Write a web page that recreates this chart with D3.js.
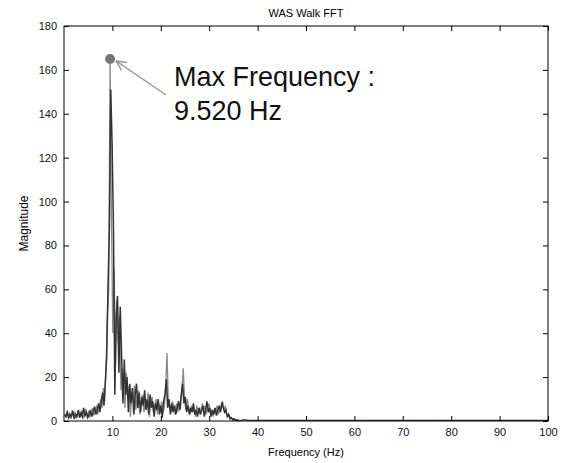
<!DOCTYPE html>
<html>
<head>
<meta charset="utf-8">
<script src="https://cdn.jsdelivr.net/npm/d3@7"></script>
<style>
  body { margin: 0; background: #fff; }
  text { font-family: "Liberation Sans", Arial, sans-serif; }
</style>
</head>
<body>
<div id="chart"></div>
<script>
// FFT bins: dark trace starts at 0.14 Hz, gray at 0.28 Hz, both 0.28 Hz apart
const darkStart = 0.14;
const grayStart = 0.28;
const binStep = 0.28;

const darkMag = [
  3, 2, 4, 1.5, 3, 2, 4.5, 1, 3, 2,
  5, 1.5, 3.5, 2, 6, 2.5, 4, 1.5, 3, 5,
  2, 4, 6.5, 3, 5, 8, 4, 9, 13, 7,
  18, 29, 62, 88, 151, 126, 88, 12, 48, 57,
  22, 52, 30, 8, 28, 12, 20, 4, 17, 8,
  15, 3, 12, 17, 6, 13, 4, 11, 7, 14,
  5, 10, 3, 12, 6, 9, 2, 8, 5, 10,
  3, 7, 1.5, 9, 12, 19, 6, 10, 3, 8,
  4, 7, 3, 6, 9, 5, 12, 17, 8, 11,
  4, 7, 3, 6, 4, 8, 3, 5, 2, 6,
  3, 5, 7, 2, 5, 9, 4, 6, 2, 5,
  3, 6, 2.5, 5, 7, 4, 8.5, 6, 4, 5,
  2, 3, 1, 1.5, 0.5, 1, 0.3, 0.6, 0.2, 0.4
];

const grayMag = [
  1.5, 4, 2, 3.5, 1, 5, 2.5, 4, 1.5, 3,
  4.5, 2, 5, 1, 3, 5.5, 2, 4, 1.5, 4,
  6, 2.5, 4.5, 7, 3, 6, 10, 6, 15, 9,
  24, 48, 60, 165, 95, 40, 70, 25, 55, 36,
  48, 14, 24, 18, 6, 22, 10, 16, 2, 13,
  9, 16, 5, 11, 14, 3, 9, 12, 4, 10,
  7, 13, 2, 8, 11, 4, 7, 10, 3, 8,
  5, 9, 4, 6, 15, 31, 9, 7, 4, 9,
  6, 3, 8, 4, 7, 6, 14, 24, 9, 5,
  10, 6, 3, 7, 4, 6, 2, 7, 4, 6,
  3, 8, 4, 7, 3, 6, 8, 4, 5, 2,
  5, 4, 7, 3, 5, 6, 9, 5, 7, 3,
  2, 2.5, 1, 1.2, 0.6, 0.8, 0.4, 0.5, 0.3, 0.2
];

// flat near-zero tail after the signal dies out
const tailFreq = [36.4, 37.2, 38.0, 100];
const tailMag = [0.2, 0.6, 0.3, 0.3];

const maxFreq = 9.52;
const maxMag = 165;

const xTicks = [10, 20, 30, 40, 50, 60, 70, 80, 90, 100];
const yTicks = [0, 20, 40, 60, 80, 100, 120, 140, 160, 180];

const width = 567;
const height = 463;
const margin = {top: 26, right: 19, bottom: 42, left: 64};

const svg = d3.select('#chart')
  .append('svg')
  .attr('width', width)
  .attr('height', height);

const x = d3.scaleLinear()
  .domain([0, 100])
  .range([margin.left, width - margin.right]);

const y = d3.scaleLinear()
  .domain([0, 180])
  .range([height - margin.bottom, margin.top]);

const dark = darkMag.map((m, i) => ({f: darkStart + i * binStep, m}));
const gray = grayMag.map((m, i) => ({f: grayStart + i * binStep, m}));
const tail = tailFreq.map((f, i) => ({f, m: tailMag[i]}));

const line = d3.line().x(d => x(d.f)).y(d => y(d.m));

svg.append('path').datum(gray)
  .attr('fill', 'none').attr('stroke', '#8a8a8a').attr('stroke-width', 1.3)
  .attr('d', line);

svg.append('path').datum(dark)
  .attr('fill', 'none').attr('stroke', '#333').attr('stroke-width', 1.5)
  .attr('d', line);

svg.append('path').datum(tail)
  .attr('fill', 'none').attr('stroke', '#333').attr('stroke-width', 1.3)
  .attr('d', line);

// axes, ticks inside on all four sides
const tickFont = 11;
svg.append('g')
  .attr('transform', `translate(0,${height - margin.bottom})`)
  .call(d3.axisBottom(x).tickValues(xTicks).tickSizeInner(-5).tickSizeOuter(0).tickPadding(7))
  .call(g => g.select('.domain').remove())
  .attr('font-size', tickFont);

svg.append('g')
  .attr('transform', `translate(${margin.left},0)`)
  .call(d3.axisLeft(y).tickValues(yTicks).tickSizeInner(-5).tickSizeOuter(0).tickPadding(7))
  .call(g => g.select('.domain').remove())
  .attr('font-size', tickFont);

svg.append('g')
  .attr('transform', `translate(0,${margin.top})`)
  .call(d3.axisTop(x).tickValues(xTicks).tickSizeInner(-5).tickSizeOuter(0).tickFormat(''))
  .call(g => g.select('.domain').remove());

svg.append('g')
  .attr('transform', `translate(${width - margin.right},0)`)
  .call(d3.axisRight(y).tickValues(yTicks).tickSizeInner(-5).tickSizeOuter(0).tickFormat(''))
  .call(g => g.select('.domain').remove());

svg.selectAll('.tick text').attr('fill', '#111');

svg.append('rect')
  .attr('x', margin.left).attr('y', margin.top)
  .attr('width', width - margin.left - margin.right)
  .attr('height', height - margin.top - margin.bottom)
  .attr('fill', 'none').attr('stroke', '#000').attr('stroke-width', 1);

// max marker and annotation
svg.append('circle')
  .attr('cx', x(maxFreq)).attr('cy', y(maxMag)).attr('r', 5)
  .attr('fill', '#777');

const ax0 = 166, ay0 = 95;
const ax1 = x(maxFreq) + 6, ay1 = y(maxMag) + 2;
svg.append('line')
  .attr('x1', ax0).attr('y1', ay0).attr('x2', ax1).attr('y2', ay1)
  .attr('stroke', '#999').attr('stroke-width', 1.5);
const ang = Math.atan2(ay1 - ay0, ax1 - ax0);
[0.45, -0.45].forEach(a => {
  svg.append('line')
    .attr('x1', ax1).attr('y1', ay1)
    .attr('x2', ax1 - 11 * Math.cos(ang + a))
    .attr('y2', ay1 - 11 * Math.sin(ang + a))
    .attr('stroke', '#999').attr('stroke-width', 1.5);
});

svg.append('text')
  .attr('x', 174).attr('y', 86)
  .attr('font-size', 27).attr('fill', '#111')
  .text('Max Frequency  :');
svg.append('text')
  .attr('x', 174).attr('y', 120)
  .attr('font-size', 27).attr('fill', '#111')
  .text(`${maxFreq.toFixed(3)} Hz`);

// titles
svg.append('text')
  .attr('x', (margin.left + width - margin.right) / 2).attr('y', 17)
  .attr('text-anchor', 'middle').attr('font-size', 11)
  .text('WAS Walk FFT');

svg.append('text')
  .attr('x', (margin.left + width - margin.right) / 2).attr('y', 456)
  .attr('text-anchor', 'middle').attr('font-size', 11)
  .text('Frequency (Hz)');

svg.append('text')
  .attr('transform', `translate(28,${(margin.top + height - margin.bottom) / 2}) rotate(-90)`)
  .attr('text-anchor', 'middle').attr('font-size', 12)
  .text('Magnitude');
</script>
</body>
</html>
